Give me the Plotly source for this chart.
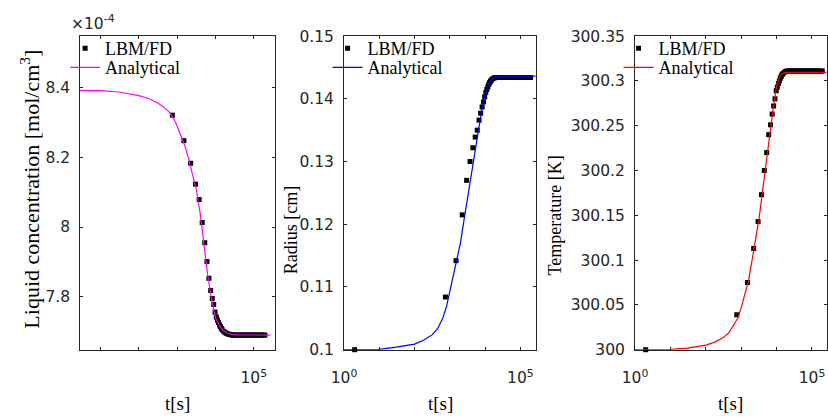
import plotly.graph_objects as go

# ---------------------------------------------------------------------------
# Data
# ---------------------------------------------------------------------------
# Output times of the LBM/FD simulation [s]
t_fd = [2, 750, 1500, 2250, 3000, 3750, 4500, 5250, 6000, 6750, 7500, 8250, 9000, 9750,
        10500, 11250, 12000, 12750, 13500, 14250, 15000, 16500, 18000, 19500, 21000,
        23000, 25000, 27500, 30000, 33000, 36000, 40000, 44000, 48000, 53000, 58000,
        64000, 70000, 77000, 85000, 93000, 102000, 112000, 123000, 135000, 148000,
        162000, 178000, 195000]

# Liquid concentration, LBM/FD [1e-4 mol/cm^3]
conc_fd = [8.393, 8.321, 8.248, 8.183, 8.123, 8.079, 8.013, 7.955, 7.901, 7.853, 7.818,
           7.795, 7.778, 7.756, 7.742, 7.733, 7.726, 7.719, 7.714, 7.709, 7.705, 7.700,
           7.697, 7.695, 7.693, 7.692, 7.691, 7.690, 7.690, 7.690, 7.690, 7.690, 7.690,
           7.690, 7.690, 7.690, 7.690, 7.690, 7.690, 7.690, 7.690, 7.690, 7.690, 7.690,
           7.690, 7.690, 7.690, 7.690, 7.690]

# Bubble radius, LBM/FD [cm]
radius_fd = [0.1000, 0.1084, 0.1142, 0.1215, 0.1270, 0.1300, 0.1322, 0.1339, 0.1350,
             0.1366, 0.1377, 0.1387, 0.1395, 0.1403, 0.1410, 0.1415, 0.1419, 0.1423,
             0.1426, 0.1428, 0.1430, 0.1432, 0.1433, 0.1434, 0.1434, 0.1434, 0.1434,
             0.1434, 0.1434, 0.1434, 0.1434, 0.1434, 0.1434, 0.1434, 0.1434, 0.1434,
             0.1434, 0.1434, 0.1434, 0.1434, 0.1434, 0.1434, 0.1434, 0.1434, 0.1434,
             0.1434, 0.1434, 0.1434, 0.1434]

# Temperature, LBM/FD [K]
temp_fd = [300.000, 300.039, 300.075, 300.113, 300.143, 300.173, 300.200, 300.220,
           300.240, 300.251, 300.263, 300.272, 300.280, 300.289, 300.293, 300.297,
           300.300, 300.303, 300.305, 300.307, 300.308, 300.3095, 300.3105, 300.311,
           300.311, 300.311, 300.311, 300.311, 300.311, 300.311, 300.311, 300.311,
           300.311, 300.311, 300.311, 300.311, 300.311, 300.311, 300.311, 300.311,
           300.311, 300.311, 300.311, 300.311, 300.311, 300.311, 300.311, 300.311,
           300.311]

# Times at which the analytical solution is evaluated [s]
t_an = [1, 3, 10, 30, 100, 180, 320, 450, 630, 800, 1000, 1250, 1600, 2000, 2500, 3200,
        4000, 5000, 6300, 8000, 10000, 12500, 16000, 20000, 28000, 40000, 100000, 270000]

conc_an = [8.3930, 8.3928, 8.3915, 8.3875, 8.3770, 8.3690, 8.3550, 8.3440, 8.3290,
           8.3120, 8.2900, 8.2620, 8.2320, 8.1950, 8.1520, 8.1050, 8.0380, 7.9550,
           7.8600, 7.7900, 7.7400, 7.7180, 7.7030, 7.6960, 7.6915, 7.6905, 7.6900,
           7.6900]

radius_an = [0.10000, 0.10000, 0.10005, 0.10042, 0.10090, 0.10150, 0.10240, 0.10335,
             0.10500, 0.10680, 0.10920, 0.11160, 0.11430, 0.11700, 0.12050, 0.12420,
             0.12780, 0.13150, 0.13500, 0.13810, 0.14080, 0.14240, 0.14320, 0.14350,
             0.14360, 0.14360, 0.14360, 0.14360]

temp_an = [300.0000, 300.0000, 300.0004, 300.0018, 300.0052, 300.0085, 300.0140,
           300.0190, 300.0280, 300.0350, 300.0470, 300.0600, 300.0765, 300.0985,
           300.1215, 300.1465, 300.1768, 300.2080, 300.2382, 300.2690, 300.2947,
           300.3055, 300.3090, 300.3095, 300.3095, 300.3095, 300.3095, 300.3095]

x_tickvals = [1, 10, 100, 1000, 10000, 100000]
x_ticktext = ["10<sup>0</sup>", "", "", "", "", "10<sup>5</sup>"]

# ---------------------------------------------------------------------------
# Figure
# ---------------------------------------------------------------------------
W, H = 828, 419
AX = "#262626"
SANS = "DejaVu Sans"
SERIF = "Liberation Serif"

# panel boxes in pixels: (left, right), shared top/bottom
boxes = [(68.3, 266.0), (336.7, 532.2), (632.7, 827.5)]
top_px, bot_px = 28.3, 356.0
ydom = [(H - bot_px) / H, (H - top_px) / H]

panels = [
    dict(y_fd=conc_fd, y_an=conc_an, color="#FF00FF",
         xrange=[0.469, 5.54], yrange=[7.648, 8.548], dtick=0.2,
         ytitle="Liquid concentration [mol/cm<sup>3</sup>]", title_xy=(17, 188),
         title_size=22, legend_x=53),
    dict(y_fd=radius_fd, y_an=radius_an, color="#0000FF",
         xrange=[0, 5.45], yrange=[0.1, 0.15], dtick=0.01,
         ytitle="Radius [cm]", title_xy=(283, 231), title_size=18, legend_x=320),
    dict(y_fd=temp_fd, y_an=temp_an, color="#FF0000",
         xrange=[0, 5.41], yrange=[300.0, 300.35], dtick=0.05,
         ytitle="Temperature [K]", title_xy=(551, 216), title_size=18, legend_x=616),
]

fig = go.Figure()
annotations = []
layout = {}

for i, (p, (l, r)) in enumerate(zip(panels, boxes), start=1):
    sfx = "" if i == 1 else str(i)
    leg_fd = "legend" if i == 1 else f"legend{2 * i - 1}"
    leg_an = f"legend{2 * i}"
    fig.add_trace(go.Scatter(
        x=t_fd, y=p["y_fd"], mode="markers", name="LBM/FD",
        marker=dict(symbol="square", size=5, color="black"),
        cliponaxis=False, xaxis=f"x{sfx}", yaxis=f"y{sfx}", legend=leg_fd))
    fig.add_trace(go.Scatter(
        x=t_an, y=p["y_an"], mode="lines", name="Analytical",
        line=dict(color=p["color"], width=1.2),
        xaxis=f"x{sfx}", yaxis=f"y{sfx}", legend=leg_an))

    common = dict(showline=True, linecolor=AX, linewidth=1, mirror="ticks",
                  ticks="inside", ticklen=3, tickcolor=AX, showgrid=False,
                  zeroline=False, layer="below traces",
                  tickfont=dict(family=SANS, size=15.5, color=AX))
    layout[f"xaxis{sfx}"] = dict(
        common, type="log", domain=[l / W, r / W], range=p["xrange"],
        tickvals=x_tickvals, ticktext=x_ticktext, anchor=f"y{sfx}",
        ticklabelstandoff=14)
    layout[f"yaxis{sfx}"] = dict(
        common, domain=ydom, range=p["yrange"], dtick=p["dtick"], tick0=0,
        anchor=f"x{sfx}", ticklabelstandoff=6)
    for leg, top in ((leg_fd, 22), (leg_an, 42)):
        layout[leg] = dict(
            x=p["legend_x"] / W, y=(H - top) / H, xanchor="left", yanchor="top",
            bgcolor="rgba(0,0,0,0)", borderwidth=0, itemwidth=30,
            font=dict(family=SERIF, size=18, color="black"))

    tx, ty = p["title_xy"]
    annotations.append(dict(
        text=p["ytitle"], textangle=-90, x=tx / W, y=(H - ty) / H,
        xref="paper", yref="paper", xanchor="center", yanchor="middle",
        showarrow=False, font=dict(family=SERIF, size=p["title_size"], color="black")))
    annotations.append(dict(
        text="t[s]", x=0.5 * (l + r) / W, y=(H - 412) / H,
        xref="paper", yref="paper", xanchor="center", yanchor="middle",
        showarrow=False, font=dict(family=SERIF, size=19, color="black")))

# exponent of the concentration axis
annotations.append(dict(
    text="\u00d710<sup>-4</sup>", x=69 / W, y=(H - 14) / H, xref="paper", yref="paper",
    xanchor="left", yanchor="middle", showarrow=False, xshift=-12,
    font=dict(family=SANS, size=15.5, color=AX)))

fig.update_layout(
    width=W, height=H, margin=dict(l=0, r=0, t=0, b=0),
    paper_bgcolor="white", plot_bgcolor="white", showlegend=True,
    annotations=annotations, **layout)

fig.write_html("out.html")
